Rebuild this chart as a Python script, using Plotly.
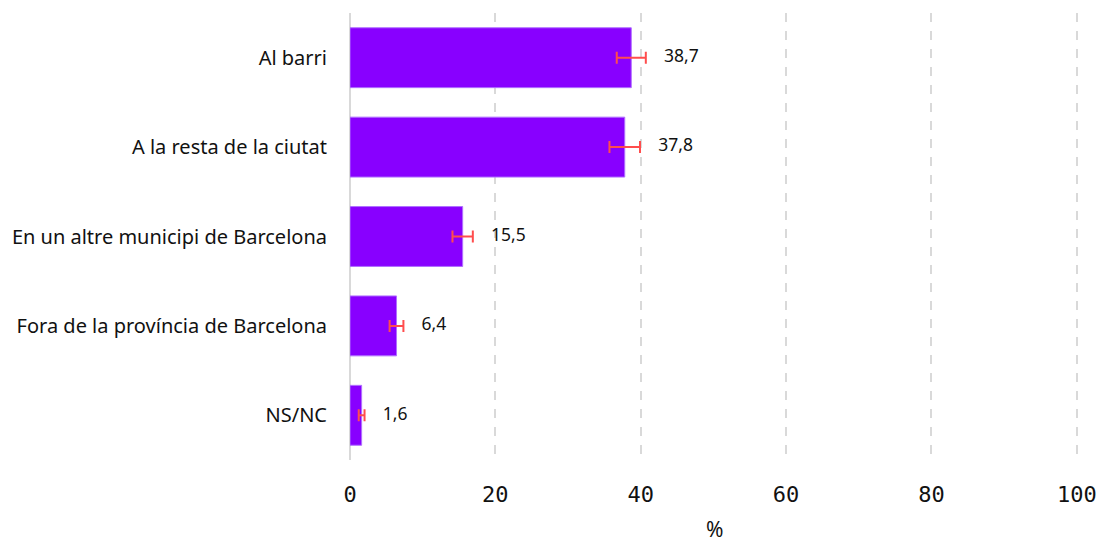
import plotly.graph_objects as go

categories = ["Al barri", "A la resta de la ciutat", "En un altre municipi de Barcelona",
              "Fora de la província de Barcelona", "NS/NC"]
values = [38.7, 37.8, 15.5, 6.4, 1.6]
errors = [2.0, 2.1, 1.4, 0.95, 0.4]
labels = ["38,7", "37,8", "15,5", "6,4", "1,6"]
x_ticks = [0, 20, 40, 60, 80, 100]
x_title = "%"

FONT = "Noto Sans, sans-serif"

fig = go.Figure()
fig.add_trace(go.Bar(
    y=categories, x=values, orientation="h",
    marker=dict(color="#8800ff", line=dict(color="#b070ff", width=1)),
    width=0.67,
    error_x=dict(type="data", array=errors, visible=True, color="#ff4d4d", thickness=2, width=6),
    hoverinfo="skip",
))
fig.add_trace(go.Scatter(
    y=categories, x=[v + e for v, e in zip(values, errors)],
    mode="text", text=["    " + t for t in labels], textposition="middle right",
    textfont=dict(family=FONT, size=17.5, color="#111"),
    cliponaxis=False, hoverinfo="skip",
))

fig.update_layout(
    width=1099, height=545,
    margin=dict(l=350, r=20, t=13, b=85),
    plot_bgcolor="white", paper_bgcolor="white",
    showlegend=False,
    annotations=[dict(text=x_title, xref="paper", yref="paper", x=0.5, y=0,
                      xanchor="center", yanchor="middle", yshift=-69, showarrow=False,
                      borderpad=0,
                      font=dict(family=FONT, size=21, color="#111"))],
)
fig.update_xaxes(
    range=[0, 100.3], tickvals=x_ticks, ticktext=[str(t) for t in x_ticks],
    showgrid=True, gridcolor="#d9d9d9", griddash="dash", gridwidth=1.5,
    zeroline=True, zerolinecolor="#d9d9d9", zerolinewidth=2,
    tickfont=dict(family="DejaVu Sans Mono, monospace", size=22, color="#111"),
    ticks="", ticklabelstandoff=19,
    fixedrange=True, automargin=False,
)
fig.update_yaxes(
    categoryorder="array", categoryarray=categories[::-1],
    tickfont=dict(family=FONT, size=20, color="#111"),
    ticks="", ticklabelstandoff=22, showgrid=False,
    fixedrange=True, automargin=False,
)
fig.write_html("out.html", config={"displayModeBar": False},
               post_script="document.body.style.margin='0';document.body.style.overflow='hidden';")
